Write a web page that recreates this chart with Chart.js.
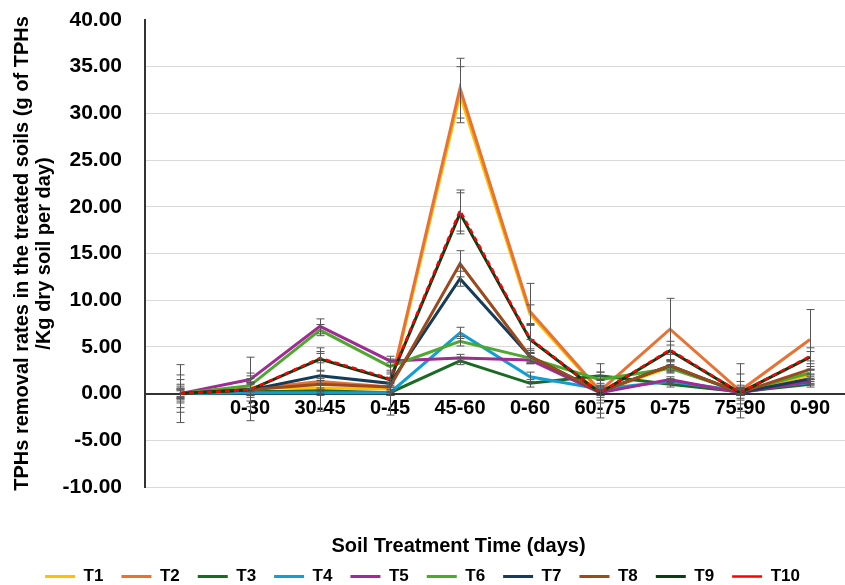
<!DOCTYPE html>
<html>
<head>
<meta charset="utf-8">
<script src="https://cdn.jsdelivr.net/npm/chart.js@4.4.1/dist/chart.umd.min.js"></script>
<style>
  html, body { margin: 0; padding: 0; background: #fff; }
  #wrap { width: 845px; height: 585px; }
</style>
</head>
<body>
<div id="wrap"><canvas id="myChart"></canvas></div>
<script>
let labels = ['', '0-30', '30-45', '0-45', '45-60', '0-60', '60-75', '0-75', '75-90', '0-90'];
let names = ['T1', 'T2', 'T3', 'T4', 'T5', 'T6', 'T7', 'T8', 'T9', 'T10'];
let colorHex = ['#FFC000', '#E97132', '#196B24', '#0F9ED5', '#A02B93', '#4EA72E', '#153D5A', '#9A4A1C', '#0B3D12', '#FF0000'];
let yTicks = [-10, -5, 0, 5, 10, 15, 20, 25, 30, 35, 40];

let t1 = [0, 0.7, 0.6, 0.5, 32.0, 8.5, 0.2, 2.8, 0.2, 2.0];
let t2 = [0, 0.5, 1.3, 0.7, 32.7, 8.8, 0.3, 6.9, 0.3, 5.8];
let t3 = [0, 0.2, 0.3, 0.1, 3.5, 1.1, 1.9, 1.0, 0.2, 1.0];
let t4 = [0, 0.1, 0.1, 0.1, 6.5, 1.8, 0.5, 1.3, 0.3, 1.2];
let t5 = [0, 1.5, 7.2, 3.5, 3.8, 3.6, 0.1, 1.5, 0.1, 1.3];
let t6 = [0, 0.85, 6.8, 2.9, 5.6, 3.8, 1.5, 2.7, 0.2, 2.2];
let t7 = [0, 0.4, 1.9, 1.1, 12.3, 4.0, 0.2, 3.0, 0.1, 1.6];
let t8 = [0, 0.4, 1.0, 0.7, 13.9, 4.0, 0.2, 3.0, 0.1, 2.6];
let t9 = [0, 0.4, 3.7, 1.5, 19.3, 5.8, 0.1, 4.6, 0.1, 3.9];
let t10 = [0, 0.4, 3.8, 1.6, 19.6, 5.9, 0.1, 4.7, 0.1, 4.0];

// +/- error for each series
let e1 = [0.5, 0.5, 0.4, 0.4, 3.0, 1.0, 0.4, 0.6, 0.4, 0.5];
let e2 = [3.1, 3.4, 3.2, 3.0, 3.2, 3.0, 2.9, 3.3, 2.9, 3.2];
let e3 = [0.3, 0.3, 0.3, 0.3, 0.4, 0.4, 0.4, 0.3, 0.3, 0.3];
let e4 = [0.4, 0.3, 0.3, 0.3, 0.6, 0.5, 0.3, 0.3, 0.3, 0.3];
let e5 = [0.6, 0.4, 0.8, 0.5, 0.4, 0.4, 0.3, 0.3, 0.3, 0.3];
let e6 = [0.5, 0.4, 0.6, 0.4, 0.5, 0.5, 0.4, 0.4, 0.4, 0.4];
let e7 = [1.0, 0.8, 0.5, 0.4, 0.8, 0.6, 0.6, 0.5, 0.6, 0.5];
let e8 = [1.5, 1.2, 0.6, 0.5, 1.4, 0.8, 1.2, 0.6, 1.2, 0.6];
let e9 = [2.0, 1.8, 1.2, 0.8, 2.2, 1.5, 2.2, 1.0, 2.0, 1.0];
let e10 = [0.8, 0.6, 0.5, 0.5, 2.2, 1.5, 0.8, 0.5, 0.8, 0.5];

let series = [t1, t2, t3, t4, t5, t6, t7, t8, t9, t10];
let errors = [e1, e2, e3, e4, e5, e6, e7, e8, e9, e10];

const fontFamily = '"Liberation Sans", Arial, sans-serif';

const errorBars = {
    id: 'errorBars',
    afterDatasetsDraw(chart) {
        const {ctx, scales: {x, y}} = chart;
        ctx.save();
        ctx.strokeStyle = '#555';
        ctx.lineWidth = 1;
        series.forEach((vals, i) => {
            vals.forEach((v, j) => {
                const px = Math.round(x.getPixelForValue(j)) + 0.5;
                const top = y.getPixelForValue(v + errors[i][j]);
                const bot = y.getPixelForValue(v - errors[i][j]);
                ctx.beginPath();
                ctx.moveTo(px, top); ctx.lineTo(px, bot);
                ctx.moveTo(px - 4, top); ctx.lineTo(px + 4, top);
                ctx.moveTo(px - 4, bot); ctx.lineTo(px + 4, bot);
                ctx.stroke();
            });
        });
        ctx.restore();
    }
};

// nudge the bottom title and legend to where they sit in the original
const nudge = {
    id: 'nudge',
    afterLayout(chart) {
        const t = chart.titleBlock, l = chart.legend;
        if (t) { t.left += 36; t.right += 36; }
        if (l) { l.top += 10; l.bottom += 10; }
    }
};

let datasets = series.map((vals, i) => ({
    label: names[i],
    data: vals,
    borderColor: colorHex[i],
    backgroundColor: colorHex[i],
    borderWidth: i === 9 ? 2.5 : 3,
    borderDash: i === 9 ? [5, 4] : [],
    pointRadius: 0,
    tension: 0,
    fill: false,
    order: 10 - i
}));

let ctx = document.getElementById('myChart').getContext('2d');

let myChart = new Chart(ctx, {
    type: 'line',
    data: { labels: labels, datasets: datasets },
    plugins: [errorBars, nudge],
    options: {
        responsive: true,
        maintainAspectRatio: false,
        animation: false,
        layout: { padding: { top: 20, right: 0, left: 0, bottom: 0 } },
        plugins: {
            tooltip: { enabled: false },
            title: {
                display: true,
                position: 'bottom',
                text: 'Soil Treatment Time (days)',
                color: '#000',
                weight: 500,
                font: { family: fontFamily, size: 20, weight: 'bold' },
                padding: { top: 47, bottom: -18 }
            },
            legend: {
                position: 'bottom',
                labels: {
                    usePointStyle: true,
                    pointStyle: 'line',
                    pointStyleWidth: 30,
                    color: '#000',
                    padding: 18,
                    font: { family: fontFamily, size: 17, weight: 'bold' },
                    sort: (a, b) => a.datasetIndex - b.datasetIndex
                }
            }
        },
        scales: {
            x: {
                position: { y: 0 },
                offset: true,
                grid: { display: false, drawTicks: false },
                border: { color: '#333', width: 2 },
                ticks: {
                    color: '#000',
                    padding: 3,
                    maxRotation: 0,
                    autoSkip: false,
                    font: { family: fontFamily, size: 20, weight: 'bold' }
                }
            },
            y: {
                min: -10,
                max: 40,
                afterBuildTicks: (scale) => { scale.ticks = yTicks.map(v => ({ value: v })); },
                afterFit: (scale) => { scale.width = 145; },
                grid: {
                    color: (c) => (c.tick && c.tick.value === 40 ? 'rgba(0,0,0,0)' : '#d9d9d9'),
                    drawTicks: true,
                    tickLength: 23,
                    tickColor: 'rgba(0,0,0,0)'
                },
                border: { color: '#333', width: 2 },
                ticks: {
                    color: '#000',
                    padding: 0,
                    callback: (v) => Number(v).toFixed(2),
                    font: { family: fontFamily, size: 21, weight: 'bold' }
                },
                title: {
                    display: true,
                    text: ['TPHs removal rates in the treated soils (g of TPHs', '/Kg dry soil per day)'],
                    color: '#000',
                    padding: { top: 11, bottom: 0 },
                    font: { family: fontFamily, size: 20, weight: 'bold', lineHeight: 1.1 }
                }
            }
        }
    }
});
</script>
</body>
</html>
